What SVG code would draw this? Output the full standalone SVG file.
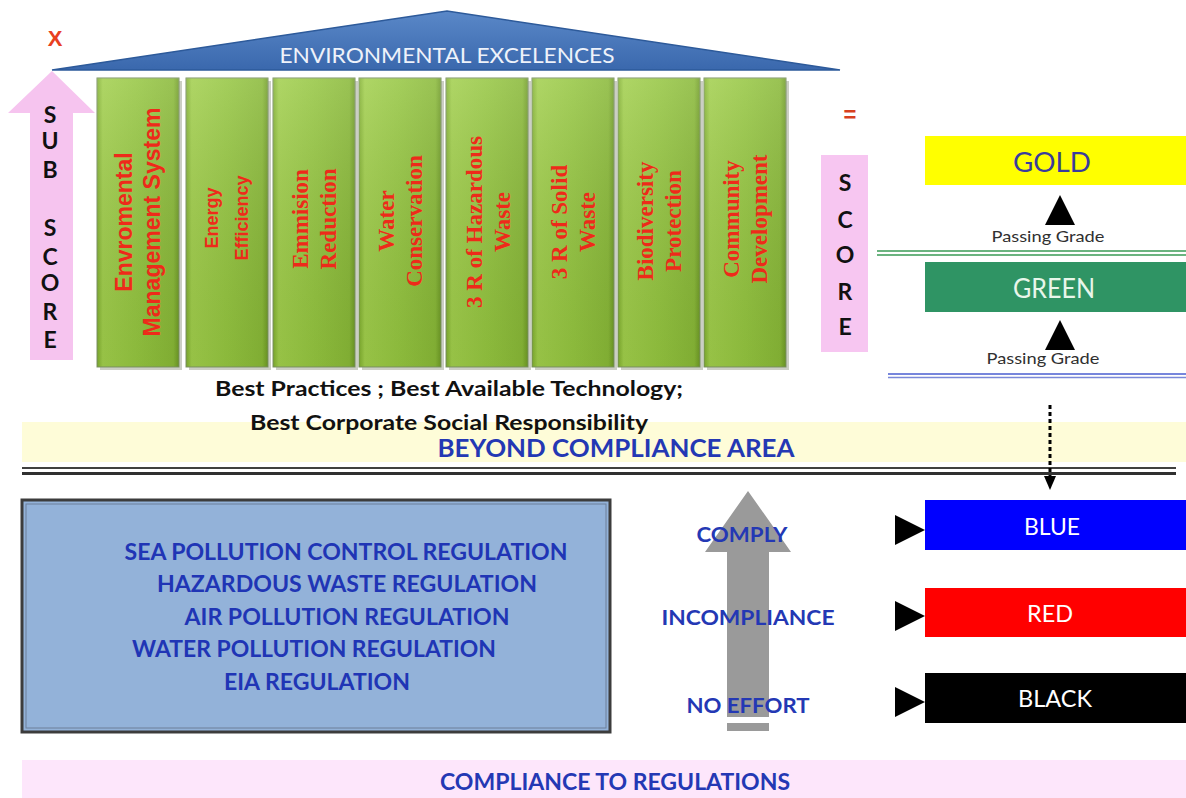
<svg xmlns="http://www.w3.org/2000/svg" width="1186" height="798" viewBox="0 0 1186 798">
<defs>
<style>
.s{font-family:Lato,"Liberation Sans",sans-serif}
.b{font-weight:bold}
.blu{fill:#2438b4}
.col{fill:url(#colg);stroke:#7f9466;stroke-width:1}
.sh{fill:#a9ad9c;opacity:.6}
.ct{font-family:"Liberation Serif",serif;font-weight:bold;font-size:23px;fill:#ee2a1a;text-anchor:middle}
.cs{font-family:"Liberation Sans",sans-serif;fill:#ee2a1a;text-anchor:middle}
.lt{font-family:Lato,"Liberation Sans",sans-serif;font-weight:bold;font-size:23px;fill:#111;text-anchor:middle}
.wt{font-family:Lato,"Liberation Sans",sans-serif;font-size:23px;fill:#fff;text-anchor:middle}
.tri{fill:#000}
</style>
<linearGradient id="colg" x1="0" y1="0" x2="1" y2="0">
<stop offset="0" stop-color="#7fae2e"/>
<stop offset="0.07" stop-color="#a0ce4a"/>
<stop offset="0.5" stop-color="#94c53f"/>
<stop offset="0.93" stop-color="#88b836"/>
<stop offset="1" stop-color="#6e9a25"/>
</linearGradient>
<linearGradient id="colv" x1="0" y1="0" x2="0" y2="1">
<stop offset="0" stop-color="#ffffff" stop-opacity="0.15"/>
<stop offset="1" stop-color="#000000" stop-opacity="0.06"/>
</linearGradient>
<linearGradient id="roofg" x1="0" y1="0" x2="0" y2="1">
<stop offset="0" stop-color="#5a88c8"/>
<stop offset="1" stop-color="#3a68ad"/>
</linearGradient>
</defs>
<rect width="1186" height="798" fill="#ffffff"/>

<!-- bands -->
<g id="beyond-band">
<rect x="22" y="422" width="1164" height="40" fill="#fefcd8"/>
<text class="s b blu" x="616" y="457" font-size="24" text-anchor="middle" textLength="357" lengthAdjust="spacingAndGlyphs">BEYOND COMPLIANCE AREA</text>
</g>
<g id="compliance-band">
<rect x="22" y="760" width="1164" height="38" fill="#fde6fb"/>
<text class="s b blu" x="615" y="790" font-size="22" text-anchor="middle" textLength="350" lengthAdjust="spacingAndGlyphs">COMPLIANCE TO REGULATIONS</text>
</g>

<!-- roof -->
<g id="roof">
<polygon points="52,70 447,11 840,70" fill="url(#roofg)" stroke="#2d5a9a" stroke-width="1.5"/>
<text class="s" x="447" y="63" font-size="21" fill="#eef2fa" text-anchor="middle" textLength="335" lengthAdjust="spacingAndGlyphs">ENVIRONMENTAL EXCELENCES</text>
</g>

<!-- sub score -->
<g id="x-mark"><text font-family="Liberation Sans, sans-serif" font-weight="bold" x="55" y="46" font-size="22" fill="#e8401f" text-anchor="middle">X</text></g>
<g id="sub-score">
<path d="M52,71 L95,113 L73,113 L73,360 L30,360 L30,113 L8,113 Z" fill="#f6c4ef"/>
<text class="lt" x="50" y="123">S</text>
<text class="lt" x="50" y="149">U</text>
<text class="lt" x="50" y="178">B</text>
<text class="lt" x="50" y="236">S</text>
<text class="lt" x="50" y="265">C</text>
<text class="lt" x="50" y="291">O</text>
<text class="lt" x="50" y="320">R</text>
<text class="lt" x="50" y="348">E</text>
</g>

<!-- columns -->
<g id="col1">
<rect class="sh" x="100" y="81" width="82" height="289"/>
<rect class="col" x="97" y="78" width="82" height="289"/>
<rect x="97" y="78" width="82" height="289" fill="url(#colv)"/>
<text class="cs" font-weight="bold" font-size="23" transform="translate(132,222) rotate(-90)">Envromental</text>
<text class="cs" font-weight="bold" font-size="23" transform="translate(160,222) rotate(-90)">Management System</text>
</g>
<g id="col2">
<rect class="sh" x="189" y="81" width="82" height="289"/>
<rect class="col" x="186" y="78" width="82" height="289"/>
<rect x="186" y="78" width="82" height="289" fill="url(#colv)"/>
<text class="cs" font-weight="bold" font-size="18" transform="translate(218,218) rotate(-90)">Energy</text>
<text class="cs" font-weight="bold" font-size="18" transform="translate(248,218) rotate(-90)">Efficiency</text>
</g>
<g id="col3">
<rect class="sh" x="276" y="81" width="82" height="289"/>
<rect class="col" x="273" y="78" width="82" height="289"/>
<rect x="273" y="78" width="82" height="289" fill="url(#colv)"/>
<text class="ct" transform="translate(308,219) rotate(-90)">Emmision</text>
<text class="ct" transform="translate(336,219) rotate(-90)">Reduction</text>
</g>
<g id="col4">
<rect class="sh" x="362" y="81" width="82" height="289"/>
<rect class="col" x="359" y="78" width="82" height="289"/>
<rect x="359" y="78" width="82" height="289" fill="url(#colv)"/>
<text class="ct" transform="translate(394,221) rotate(-90)">Water</text>
<text class="ct" transform="translate(422,221) rotate(-90)">Conservation</text>
</g>
<g id="col5">
<rect class="sh" x="449" y="81" width="82" height="289"/>
<rect class="col" x="446" y="78" width="82" height="289"/>
<rect x="446" y="78" width="82" height="289" fill="url(#colv)"/>
<text class="ct" transform="translate(482,222) rotate(-90)">3 R of Hazardous</text>
<text class="ct" transform="translate(510,222) rotate(-90)">Waste</text>
</g>
<g id="col6">
<rect class="sh" x="535" y="81" width="82" height="289"/>
<rect class="col" x="532" y="78" width="82" height="289"/>
<rect x="532" y="78" width="82" height="289" fill="url(#colv)"/>
<text class="ct" transform="translate(567,222) rotate(-90)">3 R of Solid</text>
<text class="ct" transform="translate(595,222) rotate(-90)">Waste</text>
</g>
<g id="col7">
<rect class="sh" x="621" y="81" width="82" height="289"/>
<rect class="col" x="618" y="78" width="82" height="289"/>
<rect x="618" y="78" width="82" height="289" fill="url(#colv)"/>
<text class="ct" transform="translate(653,221) rotate(-90)">Biodiversity</text>
<text class="ct" transform="translate(681,221) rotate(-90)">Protection</text>
</g>
<g id="col8">
<rect class="sh" x="707" y="81" width="82" height="289"/>
<rect class="col" x="704" y="78" width="82" height="289"/>
<rect x="704" y="78" width="82" height="289" fill="url(#colv)"/>
<text class="ct" transform="translate(739,219) rotate(-90)">Community</text>
<text class="ct" transform="translate(767,219) rotate(-90)">Development</text>
</g>

<!-- score -->
<g id="equals"><text font-family="Liberation Sans, sans-serif" font-weight="bold" x="850" y="122" font-size="22" fill="#d8401f" text-anchor="middle">=</text></g>
<g id="score">
<rect x="821" y="155" width="47" height="197" fill="#f7c6f1"/>
<text class="lt" x="845" y="191">S</text>
<text class="lt" x="845" y="228">C</text>
<text class="lt" x="845" y="263">O</text>
<text class="lt" x="845" y="300">R</text>
<text class="lt" x="845" y="335">E</text>
</g>

<!-- best practices -->
<g id="best-practices">
<text class="s b" x="449" y="396" font-size="21" fill="#111" text-anchor="middle" textLength="468" lengthAdjust="spacingAndGlyphs">Best Practices ; Best Available Technology;</text>
<text class="s b" x="449" y="430" font-size="21" fill="#111" text-anchor="middle" textLength="398" lengthAdjust="spacingAndGlyphs">Best Corporate Social Responsibility</text>
</g>

<!-- grades -->
<g id="gold">
<rect x="925" y="136" width="261" height="49" fill="#ffff00"/>
<text class="s" x="1052" y="172" font-size="26" fill="#3a3c9c" text-anchor="middle" textLength="78" lengthAdjust="spacingAndGlyphs">GOLD</text>
</g>
<g id="green">
<rect x="925" y="262" width="261" height="50" fill="#2f9464"/>
<text class="s" x="1054" y="298" font-size="26" fill="#e8f6ea" text-anchor="middle" textLength="82" lengthAdjust="spacingAndGlyphs">GREEN</text>
</g>
<g id="blue">
<rect x="925" y="500" width="261" height="50" fill="#0000ff"/>
<text class="wt" x="1052" y="535" textLength="56" lengthAdjust="spacingAndGlyphs">BLUE</text>
</g>
<g id="red">
<rect x="925" y="588" width="261" height="49" fill="#ff0000"/>
<text class="wt" x="1050" y="622" textLength="46" lengthAdjust="spacingAndGlyphs">RED</text>
</g>
<g id="black">
<rect x="925" y="673" width="261" height="50" fill="#000000"/>
<text class="wt" x="1055" y="707" textLength="74" lengthAdjust="spacingAndGlyphs">BLACK</text>
</g>

<!-- regulations -->
<g id="regulations">
<rect x="22" y="500" width="588" height="232" fill="#93b2d9" stroke="#3c3c3c" stroke-width="3"/>
<rect x="26" y="504" width="580" height="224" fill="none" stroke="#6d7f99" stroke-width="1"/>
<text class="s b" fill="#2035b5" font-size="22" text-anchor="middle" x="346" y="560" textLength="443" lengthAdjust="spacingAndGlyphs">SEA POLLUTION CONTROL REGULATION</text>
<text class="s b" fill="#2035b5" font-size="22" text-anchor="middle" x="347" y="592" textLength="380" lengthAdjust="spacingAndGlyphs">HAZARDOUS WASTE REGULATION</text>
<text class="s b" fill="#2035b5" font-size="22" text-anchor="middle" x="347" y="625" textLength="325" lengthAdjust="spacingAndGlyphs">AIR POLLUTION REGULATION</text>
<text class="s b" fill="#2035b5" font-size="22" text-anchor="middle" x="314" y="657" textLength="364" lengthAdjust="spacingAndGlyphs">WATER POLLUTION REGULATION</text>
<text class="s b" fill="#2035b5" font-size="22" text-anchor="middle" x="317" y="690" textLength="186" lengthAdjust="spacingAndGlyphs">EIA REGULATION</text>
</g>

<!-- gray arrow and levels -->
<g id="compliance-arrow">
<path d="M748,491 L791,552 L769,552 L769,717 L727,717 L727,552 L705,552 Z" fill="#9a9a9a"/>
<rect x="727" y="723" width="42" height="8" fill="#9a9a9a"/>
<text class="s b blu" x="742" y="542" font-size="21" text-anchor="middle" textLength="91" lengthAdjust="spacingAndGlyphs">COMPLY</text>
<text class="s b blu" x="748" y="625" font-size="21" text-anchor="middle" textLength="173" lengthAdjust="spacingAndGlyphs">INCOMPLIANCE</text>
<text class="s b blu" x="748" y="713" font-size="21" text-anchor="middle" textLength="123" lengthAdjust="spacingAndGlyphs">NO EFFORT</text>
</g>

<!-- connectors / separators -->
<g id="connectors">
<line x1="877" y1="251" x2="1186" y2="251" stroke="#3a9a55" stroke-width="1.5"/>
<line x1="877" y1="255" x2="1186" y2="255" stroke="#3a9a55" stroke-width="1.5"/>
<line x1="888" y1="374" x2="1186" y2="374" stroke="#4a5ed0" stroke-width="1.5"/>
<line x1="888" y1="377.5" x2="1186" y2="377.5" stroke="#7a88d8" stroke-width="1.5"/>
<line x1="22" y1="468" x2="1176" y2="468" stroke="#404040" stroke-width="2"/>
<line x1="22" y1="473.5" x2="1176" y2="473.5" stroke="#303030" stroke-width="3"/>
<polygon class="tri" points="1060,195 1075,225 1045,225"/>
<text class="s" x="1048" y="242" font-size="16" fill="#303030" text-anchor="middle" textLength="113" lengthAdjust="spacingAndGlyphs">Passing Grade</text>
<polygon class="tri" points="1060,320 1075,350 1045,350"/>
<text class="s" x="1043" y="364" font-size="16" fill="#303030" text-anchor="middle" textLength="113" lengthAdjust="spacingAndGlyphs">Passing Grade</text>
<line x1="1050" y1="405" x2="1050" y2="477" stroke="#000" stroke-width="3" stroke-dasharray="4 3"/>
<polygon class="tri" points="1044,476 1056,476 1050,490"/>
<polygon class="tri" points="895,515 925,530 895,545"/>
<polygon class="tri" points="895,601 925,616 895,631"/>
<polygon class="tri" points="895,687 925,702 895,717"/>
</g>
</svg>
